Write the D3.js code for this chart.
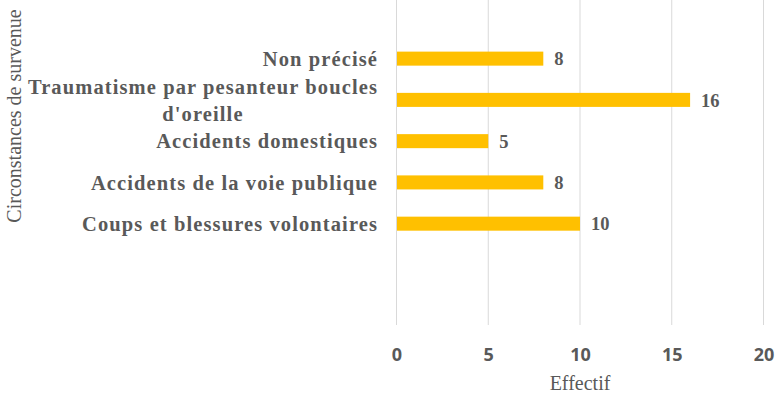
<!DOCTYPE html>
<html>
<head>
<meta charset="utf-8">
<script src="https://cdn.jsdelivr.net/npm/d3@7"></script>
<style>
  html, body { margin: 0; padding: 0; background: #fff; }
  svg { display: block; }
</style>
</head>
<body>
<svg id="chart" width="776" height="393"></svg>
<script>
const categories = [
  "Non précisé",
  "Traumatisme par pesanteur boucles\nd'oreille",
  "Accidents domestiques",
  "Accidents de la voie publique",
  "Coups et blessures volontaires"
];
const values = [8, 16, 5, 8, 10];
const xTicks = [0, 5, 10, 15, 20];
const xTitle = "Effectif";
const yTitle = "Circonstances de survenue";

const svg = d3.select("#chart");
const plotTop = 0, plotBottom = 325;

const x = d3.scaleLinear().domain([0, 20]).range([396.5, 763.5]);
const y = d3.scaleBand().domain(categories).range([38, 244.3]).paddingInner(0.66).paddingOuter(0.33);

// gridlines
svg.append("g").selectAll("line").data(xTicks).join("line")
  .attr("x1", d => x(d)).attr("x2", d => x(d))
  .attr("y1", plotTop).attr("y2", plotBottom)
  .attr("stroke", "#d9d9d9").attr("stroke-width", 1);

// x axis tick labels
const xAxis = d3.axisBottom(x).tickValues(xTicks).tickSize(0).tickPadding(0);
const gx = svg.append("g").attr("transform", `translate(0,${plotBottom})`).call(xAxis);
gx.select(".domain").remove();
gx.selectAll("text")
  .attr("y", 30).attr("dy", "0.35em")
  .attr("fill", "#595959")
  .style("font-family", "'Open Sans', sans-serif")
  .style("font-weight", "700")
  .style("font-size", "18px");

// bars
svg.append("g").selectAll("rect").data(values).join("rect")
  .attr("x", x(0) + 0.5)
  .attr("y", (d, i) => y(categories[i]))
  .attr("width", d => x(d) - x(0) - 0.5)
  .attr("height", y.bandwidth())
  .attr("fill", "#FFC000");

// value labels
svg.append("g").selectAll("text").data(values).join("text")
  .attr("x", d => x(d) + 11)
  .attr("y", (d, i) => y(categories[i]) + y.bandwidth() / 2)
  .attr("dy", "0.36em")
  .attr("fill", "#595959")
  .style("font-family", "'Liberation Serif', 'Times New Roman', serif")
  .style("font-weight", "700")
  .style("font-size", "18.5px")
  .text(d => d);

// category labels
const catG = svg.append("g");
categories.forEach((c, i) => {
  const lines = c.split("\n");
  const cy = y(c) + y.bandwidth() / 2;
  const lh = 27;
  const t = catG.append("text")
    .attr("fill", "#595959")
    .style("font-family", "'Liberation Serif', 'Times New Roman', serif")
    .style("font-weight", "700")
    .style("font-size", "20.5px")
    .style("letter-spacing", "1.1px");
  if (lines.length === 1) {
    t.attr("x", 378).attr("y", cy).attr("dy", "0.35em").attr("text-anchor", "end").text(c);
  } else {
    const first = t.append("tspan").attr("x", 378).attr("text-anchor", "end")
      .attr("y", cy - lh / 2).attr("dy", "0.35em").text(lines[0]);
    const w = first.node().getComputedTextLength();
    const center = 378 - w / 2;
    t.append("tspan").attr("x", center).attr("text-anchor", "middle")
      .attr("y", cy + lh / 2).attr("dy", "0.35em").text(lines[1]);
  }
});

// axis titles
svg.append("text")
  .attr("x", x(10)).attr("y", 383).attr("dy", "0.35em")
  .attr("text-anchor", "middle")
  .attr("fill", "#595959")
  .style("font-family", "'Liberation Serif', 'Times New Roman', serif")
  .style("font-size", "20px")
  .text(xTitle);

svg.append("text")
  .attr("transform", "translate(14,116) rotate(-90)")
  .attr("text-anchor", "middle").attr("dy", "0.35em")
  .attr("fill", "#595959")
  .style("font-family", "'Liberation Serif', 'Times New Roman', serif")
  .style("font-size", "20px")
  .text(yTitle);
</script>
</body>
</html>
